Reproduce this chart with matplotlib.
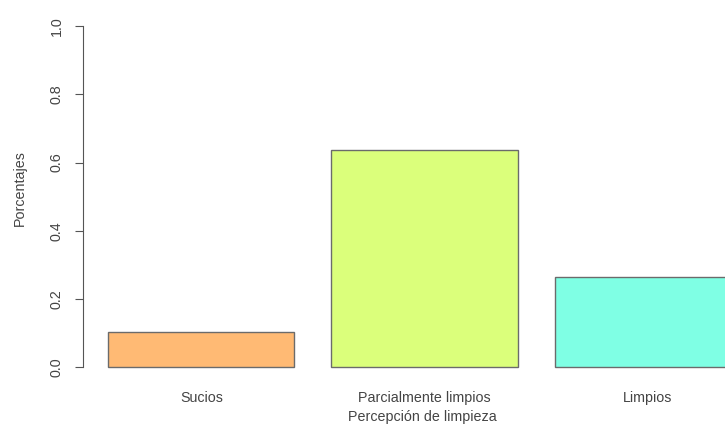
import matplotlib.pyplot as plt

plt.rcParams['font.family'] = 'Liberation Sans'

categorias = ["Sucios", "Parcialmente limpios", "Limpios"]
porcentajes = [0.103, 0.636, 0.264]
colores = ["#FFBA74", "#DBFF7B", "#7FFFE4"]
y_ticks = [0.0, 0.2, 0.4, 0.6, 0.8, 1.0]

W, H = 725, 444
fig = plt.figure(figsize=(W / 100, H / 100), dpi=100)

# plot region placed like R's barplot (right part cut off in the original)
left, right, bottom, top = 83, 766, 381, 12.4
ax = fig.add_axes([left / W, (H - bottom) / H, (right - left) / W, (bottom - top) / H])

# R barplot positions: width 1, space 0.2
pos = [0.2 + 1.2 * i + 0.5 for i in range(len(categorias))]
ax.bar(pos, porcentajes, width=1.0, color=colores, edgecolor="#6b6b6b", linewidth=1.0)

ax.set_xlim(0.064, 3.736)
ax.set_ylim(-0.04, 1.04)

for s in ["top", "right", "bottom"]:
    ax.spines[s].set_visible(False)
ax.spines["left"].set_bounds(0, 1)
ax.spines["left"].set_color("#555555")

fs = 10.3
ax.set_yticks(y_ticks)
ax.set_yticklabels([f"{v:.1f}" for v in y_ticks], rotation=90, va="center", color="#444444", fontsize=fs)
ax.tick_params(axis="y", length=6, color="#555555", pad=8)

ax.set_xticks(pos)
ax.set_xticklabels(categorias, color="#444444", fontsize=fs)
ax.tick_params(axis="x", length=0, pad=7)

ax.set_xlabel("Percepción de limpieza", color="#444444", fontsize=fs)
ax.set_ylabel("Porcentajes", color="#444444", fontsize=fs)
ax.xaxis.set_label_coords((422 - left) / (right - left), -(410 - bottom) / (bottom - top))
ax.yaxis.set_label_coords(-(83 - 27) / (right - left), (bottom - 188) / (bottom - top))

fig.savefig("out.png", dpi=100)
